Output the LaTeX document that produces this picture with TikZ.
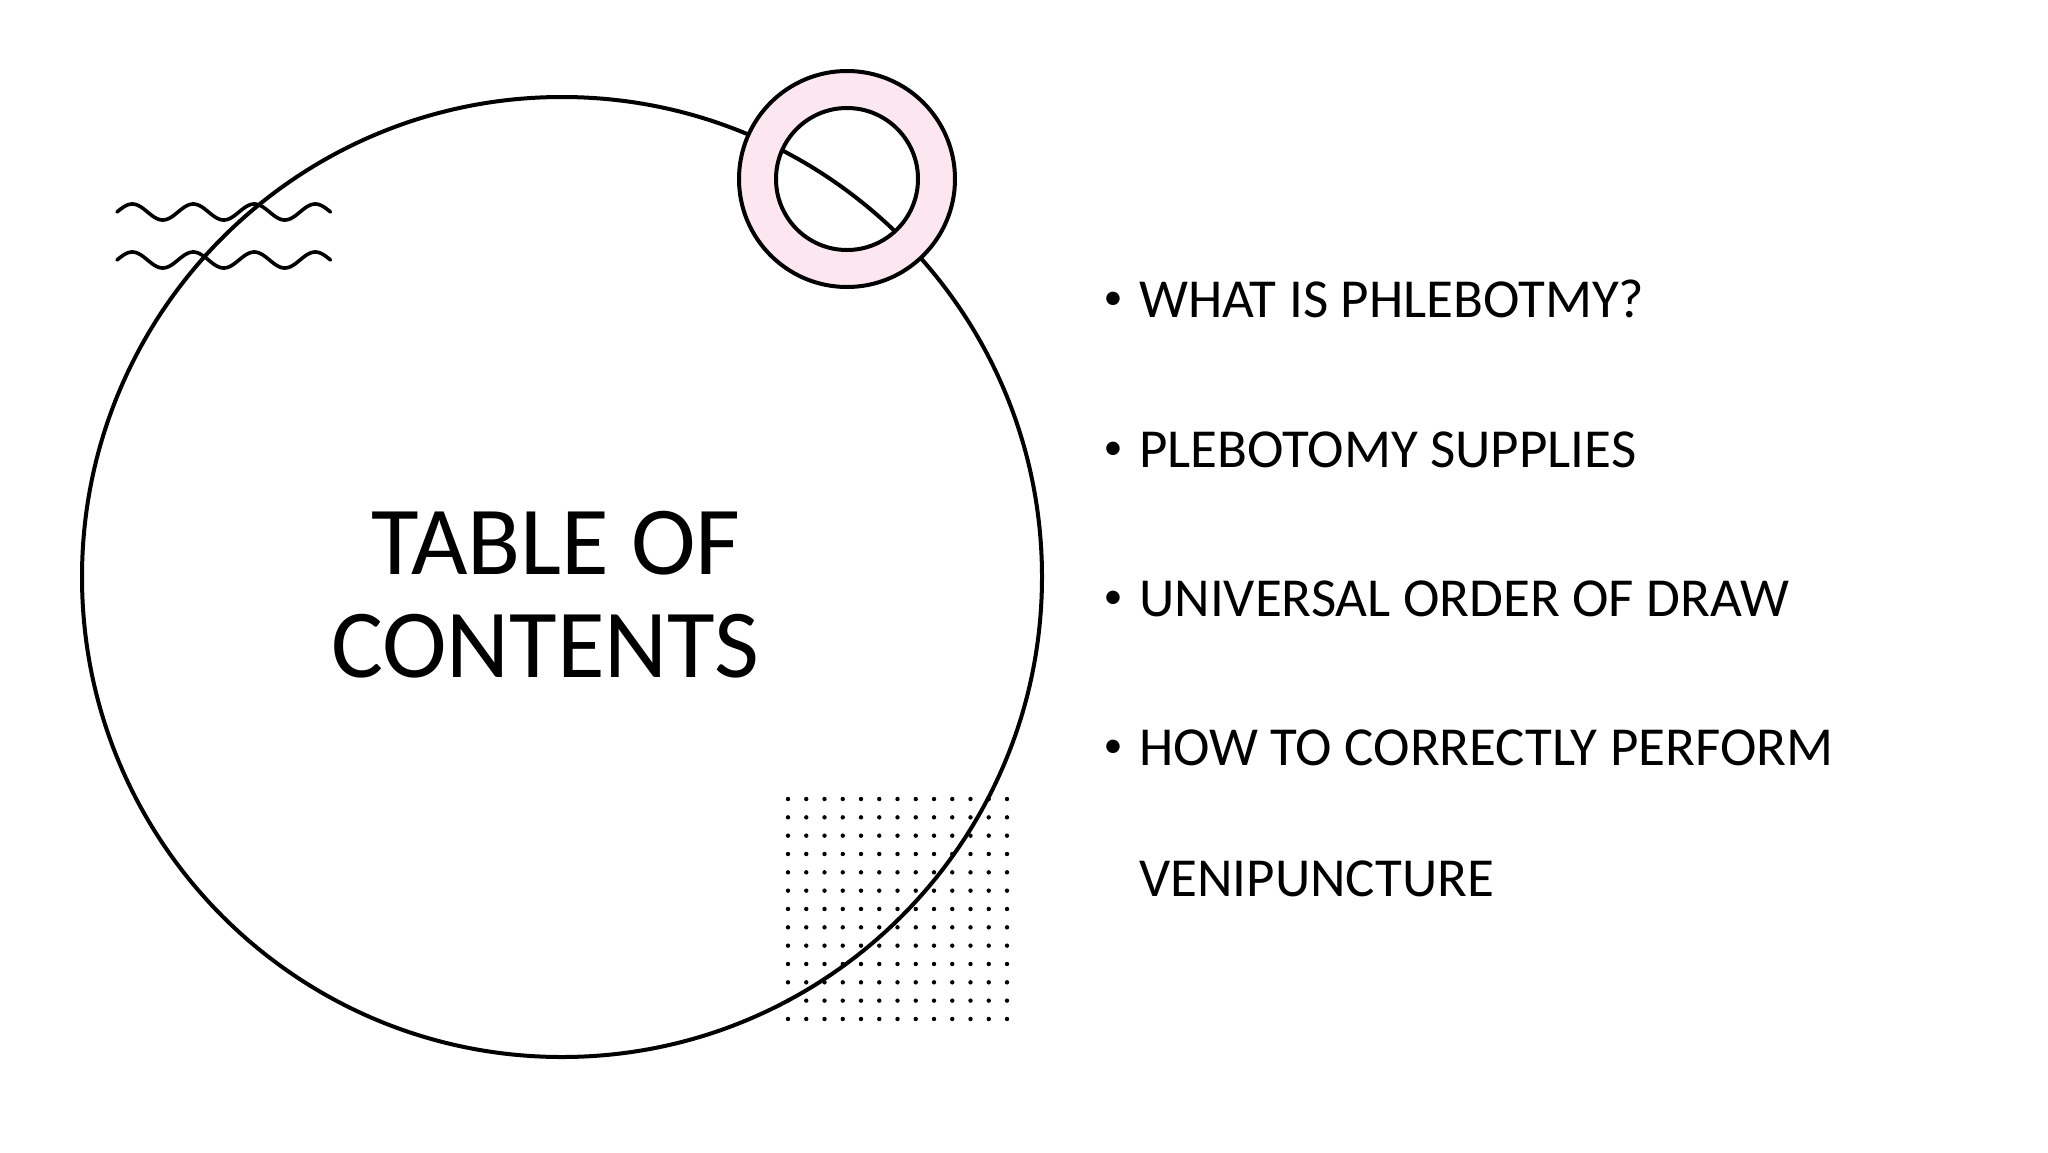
\documentclass[tikz,border=0pt]{standalone}
\usepackage{fontspec}
\setmainfont{Carlito}
\definecolor{ringpink}{RGB}{252,230,240}
\begin{document}
\begin{tikzpicture}[x=1pt,y=-1pt,
  outline/.style={draw=black,line width=4pt},
  wave/.style={draw=black,line width=3.6pt,line cap=round},
  dotfill/.style={fill=black},
  title/.style={anchor=base west,inner sep=0pt,font=\fontsize{97.5}{103}\selectfont},
  item/.style={anchor=base west,inner sep=0pt,font=\fontsize{55}{60}\selectfont},
  bullet/.style={anchor=base,inner sep=0pt,font=\fontsize{38}{40}\selectfont}]
\useasboundingbox[fill=white] (0,0) rectangle (2048,1152);
% big circle
\draw[outline] (562,577) circle[radius=480];
% dot grid
\foreach \i in {0,...,12}{
  \foreach \j in {0,...,12}{
    \fill[dotfill] ({788+\i*18.25},{799+\j*18.33}) circle[radius=2.2];
  }
}
% waves
\draw[wave] plot[domain=0:1260,samples=120,smooth] ({117+\x/360*61},{212-8*sin(\x)});
\draw[wave] plot[domain=0:1260,samples=120,smooth] ({117+\x/360*61},{260-8*sin(\x)});
% pink ring
\fill[ringpink,even odd rule] (847,179) circle[radius=108] (847,179) circle[radius=71];
\draw[outline] (847,179) circle[radius=108];
\draw[outline] (847,179) circle[radius=71];
% title
\node[title] (t1) at (371,574) {TABLE OF};
\node[title] (t2) at (331,677) {CONTENTS};
% items
\node[bullet] (b1) at (1113,309) {•};
\node[item] (i1) at (1139,317) {WHAT IS PHLEBOTMY?};
\node[bullet] (b2) at (1113,459) {•};
\node[item] (i2) at (1139,467) {PLEBOTOMY SUPPLIES};
\node[bullet] (b3) at (1113,608) {•};
\node[item] (i3) at (1139,616) {UNIVERSAL ORDER OF DRAW};
\node[bullet] (b4) at (1113,757) {•};
\node[item] (i4) at (1139,765) {HOW TO CORRECTLY PERFORM};
\node[item] (i5) at (1139,896) {VENIPUNCTURE};
\end{tikzpicture}
\end{document}
